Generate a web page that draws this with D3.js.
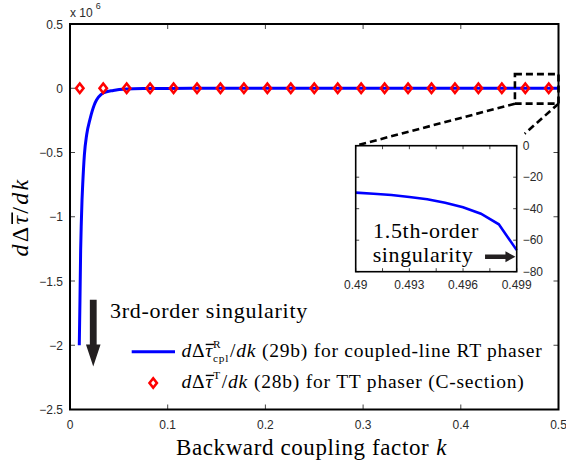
<!DOCTYPE html>
<html>
<head>
<meta charset="utf-8">
<script src="https://cdn.jsdelivr.net/npm/d3@7"></script>
<style>
  body { margin: 0; background: #fff; }
  svg { display: block; }
  .tick-label { font-family: "Liberation Sans", Arial, sans-serif; font-size: 12px; fill: #2a2a2a; }
  .serif { font-family: "Liberation Serif", "Times New Roman", serif; fill: #000; }
</style>
</head>
<body>
<svg id="chart" width="566" height="466"></svg>
<script>
// d(Δτ̄)/dk of the coupled-line RT phaser (29b) and the TT phaser C-section (28b)
// versus the backward coupling factor k.

// Coupled-line RT phaser, eq. (29b)
const rtK = [0.0095, 0.0102, 0.0109, 0.0116, 0.0123, 0.0130, 0.0147, 0.0171, 0.0205, 0.0249,
             0.0273, 0.0317, 0.034, 0.0443, 0.058, 0.075, 0.10, 0.15, 0.20, 0.30, 0.40, 0.49, 0.499];
const rtValues = [-2.0e6, -1.65e6, -1.26e6, -1.04e6, -0.87e6, -0.75e6, -0.52e6, -0.36e6, -0.24e6, -0.128e6,
                  -0.089e6, -0.05e6, -0.037e6, -0.017e6, -0.006e6, -2500, -1200, -400, -200, -80, -40, -29.8, -66.3];

// TT phaser (C-section), eq. (28b)
const ttK = [0.010, 0.034, 0.058, 0.082, 0.106, 0.130, 0.154, 0.178, 0.202, 0.226, 0.250,
             0.274, 0.298, 0.322, 0.346, 0.370, 0.394, 0.418, 0.442, 0.466, 0.490];
const ttValues = [0, 0, 0, 0, 0, 0, 0, 0, 0, 0, 0, 0, 0, 0, 0, 0, 0, 0, 0, 0, 0];

// Close-up of the RT curve near k = 0.5
const insetK = [0.490, 0.491, 0.492, 0.493, 0.494, 0.495, 0.496, 0.497, 0.498, 0.499];
const insetValues = [-29.8, -30.5, -31.3, -32.6, -34.0, -36.2, -39.1, -43.2, -49.9, -66.3];

// Axis ticks
const xTicks = [0, 0.1, 0.2, 0.3, 0.4, 0.5];
const yTicks = [0.5e6, 0, -0.5e6, -1e6, -1.5e6, -2e6, -2.5e6];
const insetXTicks = [0.49, 0.4915, 0.493, 0.4945, 0.496, 0.4975, 0.499];
const insetXLabels = [0.49, 0.493, 0.496, 0.499];
const insetYTicks = [0, -20, -40, -60, -80];

const svg = d3.select("#chart");

// Main axes
const plot = { left: 70, right: 558.5, top: 24, bottom: 409.5 };
const x = d3.scaleLinear().domain([0, 0.5]).range([plot.left, plot.right]);
const y = d3.scaleLinear().domain([-2.5e6, 0.5e6]).range([plot.bottom, plot.top]);

const fmtY = v => d3.format("~g")(v / 1e6);
const fmtX = d3.format("~g");

// Inward ticks on all four sides
const tickLen = 5;
const ticksG = svg.append("g").attr("stroke", "#444").attr("stroke-width", 1);
xTicks.forEach(t => {
  ticksG.append("line").attr("x1", x(t)).attr("x2", x(t)).attr("y1", plot.bottom).attr("y2", plot.bottom - tickLen);
  ticksG.append("line").attr("x1", x(t)).attr("x2", x(t)).attr("y1", plot.top).attr("y2", plot.top + tickLen);
});
yTicks.forEach(t => {
  ticksG.append("line").attr("x1", plot.left).attr("x2", plot.left + tickLen).attr("y1", y(t)).attr("y2", y(t));
  ticksG.append("line").attr("x1", plot.right).attr("x2", plot.right - tickLen).attr("y1", y(t)).attr("y2", y(t));
});

svg.append("g").selectAll("text").data(xTicks).join("text")
  .attr("class", "tick-label").attr("text-anchor", "middle")
  .attr("x", d => x(d)).attr("y", plot.bottom + 19).text(fmtX);
svg.append("g").selectAll("text").data(yTicks).join("text")
  .attr("class", "tick-label").attr("text-anchor", "end")
  .attr("x", plot.left - 7).attr("y", d => y(d) + 4.5).text(fmtY);

// Exponent note
const expText = svg.append("text").attr("class", "tick-label").attr("x", plot.left).attr("y", 17).text("x 10");
svg.append("text").attr("class", "tick-label").style("font-size", "9px")
  .attr("x", plot.left + expText.node().getComputedTextLength() + 3).attr("y", 9).text("6");

// Series
const rtLine = d3.line().x(d => x(d[0])).y(d => y(d[1])).curve(d3.curveMonotoneX);
svg.append("path").datum(d3.zip(rtK, rtValues))
  .attr("d", rtLine).attr("fill", "none").attr("stroke", "#0000ff").attr("stroke-width", 3);

const diamond = "M0,-4.7L3.7,0L0,4.7L-3.7,0Z";
svg.append("g").selectAll("path").data(d3.zip(ttK, ttValues)).join("path")
  .attr("d", diamond).attr("transform", d => `translate(${x(d[0])},${y(d[1])})`)
  .attr("fill", "none").attr("stroke", "#ff0000").attr("stroke-width", 2.6);

// Frame
svg.append("rect").attr("x", plot.left).attr("y", plot.top)
  .attr("width", plot.right - plot.left).attr("height", plot.bottom - plot.top)
  .attr("fill", "none").attr("stroke", "#000").attr("stroke-width", 2);

// Rich text: runs of plain/italic glyphs, overbars and stacked scripts, stretched to a given width
function layoutRuns(g, x0, y0, runs, size, spacing) {
  let cx = x0;
  const scriptSize = size * 0.58;
  runs.forEach(r => {
    if (r.gap) { cx += r.gap * size; return; }
    if (r.sup || r.sub) {
      let w = 0;
      if (r.sup) {
        const t = g.append("text").attr("class", "serif").attr("x", cx).attr("y", y0 - size * 0.5)
          .style("font-size", scriptSize + "px").style("letter-spacing", spacing + "px").text(r.sup);
        w = Math.max(w, t.node().getComputedTextLength());
      }
      if (r.sub) {
        const t = g.append("text").attr("class", "serif").attr("x", cx).attr("y", y0 + size * 0.23)
          .style("font-size", scriptSize + "px").style("letter-spacing", spacing + "px").text(r.sub);
        w = Math.max(w, t.node().getComputedTextLength());
      }
      cx += w + size * 0.05;
      return;
    }
    const t = g.append("text").attr("class", "serif").attr("x", cx).attr("y", y0)
      .style("font-size", size + "px").style("font-style", r.it ? "italic" : "normal")
      .style("letter-spacing", spacing + "px").text(r.t);
    const w = t.node().getComputedTextLength();
    if (r.bar) {
      g.append("line").attr("x1", cx + size * 0.02).attr("x2", cx + w + size * 0.05)
        .attr("y1", y0 - size * 0.66).attr("y2", y0 - size * 0.66)
        .attr("stroke", "#000").attr("stroke-width", size * 0.07);
    }
    cx += w;
  });
  return cx - x0;
}
function fittedText(parent, x0, y0, runs, size, width) {
  const probe = parent.append("g");
  const natural = layoutRuns(probe, 0, 0, runs, size, 0);
  const chars = d3.sum(runs, r => r.gap ? 0 : (r.t ? r.t.length : Math.max((r.sup || "").length, (r.sub || "").length)));
  probe.remove();
  const g = parent.append("g");
  layoutRuns(g, x0, y0, runs, size, Math.max(0, (width - natural) / chars));
  return g;
}

// Axis titles
fittedText(svg, 176, 455, [{ t: "Backward coupling factor" }, { gap: 0.3 }, { t: "k", it: true }], 23, 271);

const yTitleRuns = [{ t: "d", it: true }, { t: "Δ" }, { t: "τ", it: true, bar: true }, { t: "/" }, { t: "d", it: true }, { t: "k", it: true }];
const yTitle = svg.append("g").attr("transform", "translate(28,217) rotate(-90)");
fittedText(yTitle, -39.5, 0, yTitleRuns, 24, 79);

// Legend
const legendX = 131.7, legendRow1 = 357.3, legendRow2 = 388.3;
svg.append("line").attr("x1", legendX).attr("x2", legendX + 43.3)
  .attr("y1", legendRow1 - 5.6).attr("y2", legendRow1 - 5.6)
  .attr("stroke", "#0000ff").attr("stroke-width", 3);
svg.append("path").attr("d", diamond).attr("transform", `translate(${legendX + 21.5},${legendRow2 - 5.3})`)
  .attr("fill", "none").attr("stroke", "#ff0000").attr("stroke-width", 2.6);
fittedText(svg, 181.5, legendRow1, [
  { t: "d", it: true }, { t: "Δ" }, { t: "τ", it: true, bar: true }, { sup: "R", sub: "cpl" },
  { t: "/" }, { t: "d", it: true }, { t: "k", it: true }, { gap: 0.3 }, { t: "(29b) for coupled-line RT phaser" }
], 19.5, 361);
fittedText(svg, 181.5, legendRow2, [
  { t: "d", it: true }, { t: "Δ" }, { t: "τ", it: true, bar: true }, { sup: "T" },
  { t: "/" }, { t: "d", it: true }, { t: "k", it: true }, { gap: 0.3 }, { t: "(28b) for TT phaser (C-section)" }
], 19.5, 343);

// 3rd-order singularity note and arrow
const arrowColor = "#231f20";
fittedText(svg, 110, 318, [{ t: "3rd-order singularity" }], 22, 198);
{
  const ax = x(0.0238), yTop = y(-1.645e6), yTip = y(-2.166e6), headH = 22, headW = 7.3, shaftW = 3.4;
  svg.append("path").attr("fill", arrowColor)
    .attr("d", `M${ax - shaftW},${yTop}L${ax + shaftW},${yTop}L${ax + shaftW},${yTip - headH}L${ax + headW},${yTip - headH}` +
               `L${ax},${yTip}L${ax - headW},${yTip - headH}L${ax - shaftW},${yTip - headH}Z`);
}

// Inset: close-up near k = 0.5
const inset = { left: 355.7, right: 516.7, top: 145.7, bottom: 271.7 };
const xi = d3.scaleLinear().domain([0.49, 0.499]).range([inset.left, inset.right]);
const yi = d3.scaleLinear().domain([-80, 0]).range([inset.bottom, inset.top]);

// Zoom marker and connectors
const dashStyle = g => g.attr("fill", "none").attr("stroke", "#000").attr("stroke-width", 2.6).attr("stroke-dasharray", "7,4");
const zx0 = x(0.4554), zx1 = x(0.5), zy0 = y(0.11e6), zy1 = y(-0.12e6);
svg.append("rect").attr("x", zx0).attr("y", zy0).attr("width", zx1 - zx0).attr("height", zy1 - zy0).call(dashStyle);
svg.append("line").attr("x1", zx0).attr("y1", zy1).attr("x2", inset.left).attr("y2", inset.top).call(dashStyle);
svg.append("line").attr("x1", zx1).attr("y1", zy1).attr("x2", inset.right + 8).attr("y2", inset.top - 12).call(dashStyle);

svg.append("rect").attr("x", inset.left).attr("y", inset.top)
  .attr("width", inset.right - inset.left).attr("height", inset.bottom - inset.top).attr("fill", "#fff");

const insetTicks = svg.append("g").attr("stroke", "#444").attr("stroke-width", 1);
insetXTicks.forEach(t => {
  insetTicks.append("line").attr("x1", xi(t)).attr("x2", xi(t)).attr("y1", inset.bottom).attr("y2", inset.bottom - 3.5);
  insetTicks.append("line").attr("x1", xi(t)).attr("x2", xi(t)).attr("y1", inset.top).attr("y2", inset.top + 3.5);
});
insetYTicks.forEach(t => {
  insetTicks.append("line").attr("x1", inset.left).attr("x2", inset.left + 3.5).attr("y1", yi(t)).attr("y2", yi(t));
  insetTicks.append("line").attr("x1", inset.right).attr("x2", inset.right - 3.5).attr("y1", yi(t)).attr("y2", yi(t));
});

svg.append("g").selectAll("text").data(insetXLabels).join("text")
  .attr("class", "tick-label").attr("text-anchor", "middle")
  .attr("x", d => xi(d)).attr("y", inset.bottom + 17).text(d3.format("~g"));
svg.append("g").selectAll("text").data(insetYTicks).join("text")
  .attr("class", "tick-label").attr("text-anchor", "start")
  .attr("x", inset.right + 6).attr("y", d => yi(d) + 4).text(d3.format("~g"));

svg.append("path").datum(d3.zip(insetK, insetValues))
  .attr("d", d3.line().x(d => xi(d[0])).y(d => yi(d[1])))
  .attr("fill", "none").attr("stroke", "#0000ff").attr("stroke-width", 2.6);

svg.append("rect").attr("x", inset.left).attr("y", inset.top)
  .attr("width", inset.right - inset.left).attr("height", inset.bottom - inset.top)
  .attr("fill", "none").attr("stroke", "#000").attr("stroke-width", 1.6);

fittedText(svg, 373, 238.3, [{ t: "1.5th-order" }], 22, 106);
fittedText(svg, 372.7, 261.5, [{ t: "singularity" }], 22, 100.6);
{
  const ay = yi(-70.5), ax0 = xi(0.49723), ax1 = xi(0.49893), headL = 10, headH = 5.5, shaftH = 2.3;
  svg.append("path").attr("fill", arrowColor)
    .attr("d", `M${ax0},${ay - shaftH}L${ax1 - headL},${ay - shaftH}L${ax1 - headL},${ay - headH}L${ax1},${ay}` +
               `L${ax1 - headL},${ay + headH}L${ax1 - headL},${ay + shaftH}L${ax0},${ay + shaftH}Z`);
}
</script>
</body>
</html>
